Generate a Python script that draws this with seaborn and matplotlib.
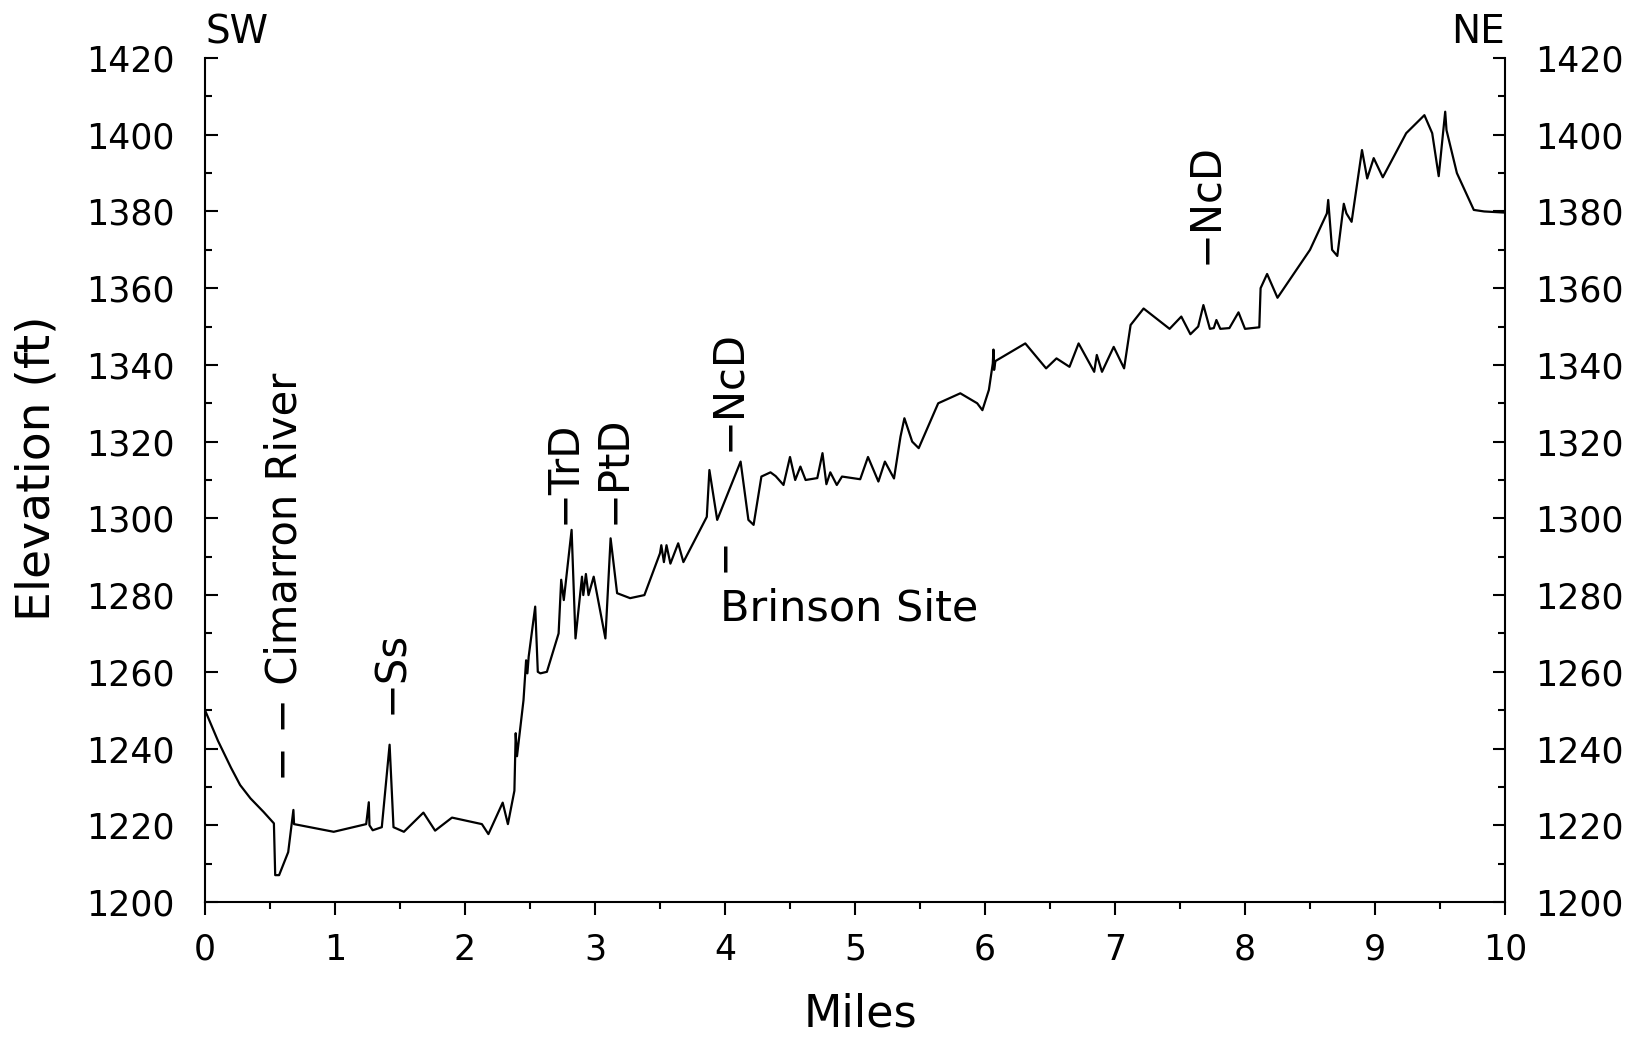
import matplotlib
matplotlib.use("Agg")
import matplotlib.pyplot as plt
from matplotlib.ticker import MultipleLocator
import seaborn as sns
import pandas as pd

miles = [0.00, 0.10, 0.20, 0.27, 0.35, 0.45, 0.53, 0.54, 0.57, 0.64, 0.68, 0.685,
         0.99, 1.24, 1.26, 1.265, 1.29, 1.36, 1.42, 1.45, 1.53, 1.68, 1.77, 1.90,
         2.13, 2.18, 2.29, 2.33, 2.38, 2.39, 2.40, 2.45, 2.47, 2.48, 2.49, 2.54,
         2.56, 2.58, 2.63, 2.72, 2.74, 2.76, 2.82, 2.85, 2.90, 2.91, 2.93, 2.95,
         2.99, 3.08, 3.12, 3.17, 3.27, 3.38, 3.50, 3.51, 3.53, 3.55, 3.58, 3.64,
         3.68, 3.86, 3.88, 3.94, 4.12, 4.18, 4.22, 4.28, 4.35, 4.39, 4.45, 4.50,
         4.54, 4.58, 4.62, 4.71, 4.75, 4.78, 4.81, 4.86, 4.90, 5.04, 5.10, 5.18,
         5.23, 5.30, 5.35, 5.38, 5.44, 5.49, 5.64, 5.81, 5.94, 5.98, 6.03, 6.06,
         6.065, 6.07, 6.08, 6.31, 6.47, 6.55, 6.65, 6.72, 6.84, 6.86, 6.90, 6.99,
         7.07, 7.12, 7.22, 7.42, 7.51, 7.58, 7.64, 7.68, 7.73, 7.76, 7.78, 7.81,
         7.88, 7.95, 8.00, 8.11, 8.12, 8.17, 8.25, 8.50, 8.63, 8.64, 8.67, 8.71,
         8.76, 8.78, 8.82, 8.90, 8.94, 8.99, 9.06, 9.24, 9.38, 9.44, 9.49, 9.54,
         9.55, 9.63, 9.76, 9.84, 10.00]
elevation = [1250, 1242, 1235, 1230.5, 1227, 1223.5, 1220.5, 1207, 1207, 1213, 1224, 1220.3,
             1218.3, 1220.3, 1226, 1220, 1218.7, 1219.5, 1241, 1219.5, 1218.3, 1223.3, 1218.6, 1222,
             1220.3, 1217.7, 1225.9, 1220.3, 1229, 1244, 1238, 1252.6, 1263, 1259.6, 1264, 1277,
             1260, 1259.6, 1260, 1270, 1284, 1278.7, 1297, 1268.7, 1284.8, 1280, 1285.5, 1280,
             1284.8, 1268.7, 1294.8, 1280.5, 1279.2, 1280, 1290.9, 1293, 1288.6, 1293, 1288.2, 1293.5,
             1288.6, 1300.4, 1312.6, 1299.6, 1314.8, 1299.6, 1298.3, 1310.9, 1312, 1311, 1308.7, 1316,
             1310, 1313.5, 1310, 1310.5, 1317, 1308.9, 1312, 1308.7, 1310.9, 1310.2, 1316, 1309.6,
             1314.8, 1310.4, 1321.3, 1326.1, 1320, 1318.3, 1330, 1332.6, 1330, 1328.2, 1333.5, 1340.4,
             1344, 1338.7, 1341, 1345.6, 1339.1, 1341.7, 1339.5, 1345.6, 1338.2, 1342.6, 1338.2, 1344.7,
             1339.1, 1350.4, 1354.7, 1349.4, 1352.6, 1348, 1350, 1355.6, 1349.4, 1349.6, 1351.7, 1349.4,
             1349.6, 1353.7, 1349.4, 1349.8, 1360, 1363.7, 1357.5, 1370, 1379.5, 1383, 1370, 1368.4,
             1382, 1379.5, 1377.3, 1396, 1388.6, 1393.9, 1388.9, 1400.4, 1405.1, 1400.4, 1389.2, 1406,
             1401.2, 1390, 1380.4, 1380, 1379.7]

x_ticks = [0, 1, 2, 3, 4, 5, 6, 7, 8, 9, 10]
y_ticks = [1200, 1220, 1240, 1260, 1280, 1300, 1320, 1340, 1360, 1380, 1400, 1420]

# annotation labels: (text, mile, elevation at bottom of label)
vertical_labels = ["\u2212 \u2212 Cimarron River", "\u2212Ss", "\u2212TrD",
                   "\u2212PtD", "\u2212NcD", "\u2212NcD"]
vertical_miles = [0.615, 1.43, 2.76, 3.14, 4.02, 7.69]
vertical_elev = [1231.5, 1249, 1298.6, 1298.6, 1317.6, 1366.3]

site_label = "Brinson Site"
site_mile = 3.96
site_elev = 1282
site_tick_mile = 3.985
site_tick_elev = 1286

df = pd.DataFrame({"Miles": miles, "Elevation": elevation})

sns.set_theme(style="ticks")
plt.rcParams["font.family"] = ["DejaVu Sans"]
plt.rcParams["text.color"] = "black"
plt.rcParams["axes.labelcolor"] = "black"

fig = plt.figure(figsize=(16.35, 10.45), dpi=100)
ax = fig.add_axes([205 / 1635, 143 / 1045, 1300 / 1635, 844 / 1045])

sns.lineplot(data=df, x="Miles", y="Elevation", ax=ax, color="black",
             linewidth=1.6, estimator=None, sort=False)

ax.set_xlim(0, 10)
ax.set_ylim(1200, 1420)
ax.set_xticks(x_ticks)
ax.set_yticks(y_ticks)
ax.xaxis.set_minor_locator(MultipleLocator(0.5))
ax.yaxis.set_minor_locator(MultipleLocator(10))

for s in ["left", "right", "bottom"]:
    ax.spines[s].set_visible(True)
    ax.spines[s].set_linewidth(1.5)
    ax.spines[s].set_color("black")
ax.spines["top"].set_visible(False)

ax.tick_params(axis="y", which="both", direction="in", left=True, right=True,
               labelleft=True, labelright=True, width=1.5, colors="black",
               labelsize=25, pad=22)
ax.tick_params(axis="y", which="major", length=9)
ax.tick_params(axis="y", which="minor", length=5)
ax.tick_params(axis="x", which="both", direction="out", bottom=True, top=False,
               width=1.5, colors="black", labelsize=25, pad=13)
ax.tick_params(axis="x", which="major", length=9)
ax.tick_params(axis="x", which="minor", length=5)

ax.set_xlabel("Miles", fontsize=32, color="black")
ax.xaxis.label.set_va("center")
ax.xaxis.set_label_coords(0.504, -0.1327)
ax.set_ylabel("Elevation (ft)", fontsize=34, color="black")
ax.yaxis.label.set_va("center")
ax.yaxis.set_label_coords(-0.129, 0.514)

for lab, xm, ye in zip(vertical_labels, vertical_miles, vertical_elev):
    ax.text(xm, ye, lab, rotation=90, ha="center", va="bottom", fontsize=30,
            color="black")

ax.text(site_tick_mile, site_tick_elev, "\u2212", rotation=90, ha="center",
        va="bottom", fontsize=30, color="black")
ax.text(site_mile, site_elev, site_label, ha="left", va="top", fontsize=31,
        color="black")

ax.text(0.0, 1.008, "SW", transform=ax.transAxes, ha="left", va="bottom",
        fontsize=28, color="black")
ax.text(1.0, 1.008, "NE", transform=ax.transAxes, ha="right", va="bottom",
        fontsize=28, color="black")

fig.savefig("out.png", dpi=100, facecolor="white")
